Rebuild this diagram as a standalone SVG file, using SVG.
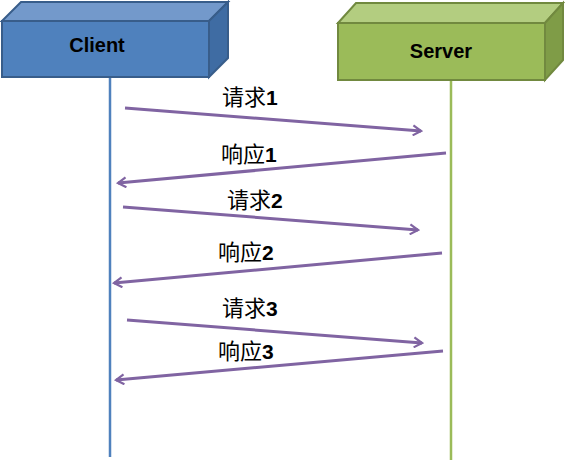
<svg xmlns="http://www.w3.org/2000/svg" width="565" height="462" viewBox="0 0 565 462">
<defs>
<style>
.lbl{font-family:"Noto Sans CJK SC","Liberation Sans",sans-serif;font-size:22px;fill:#000}
.num{font-family:"Liberation Sans",sans-serif;font-weight:bold;font-size:21px}
.title{font-family:"Liberation Sans",sans-serif;font-weight:bold;font-size:20px;fill:#000;text-anchor:middle}
.msg{stroke:#8064A2;stroke-width:3;fill:none;marker-end:url(#ah)}
</style>
<marker id="ah" viewBox="0 0 12 12" refX="10" refY="6" markerWidth="12" markerHeight="12" markerUnits="userSpaceOnUse" orient="auto">
<path d="M2,1 L10,6 L2,11" fill="none" stroke="#8064A2" stroke-width="2.2"/>
</marker>
</defs>
<rect width="565" height="462" fill="#fff"/>
<g id="lifelines">
<line x1="110" y1="77" x2="110" y2="457" stroke="#4F81BD" stroke-width="2.5"/>
<line x1="451" y1="80" x2="451" y2="460" stroke="#9BBB59" stroke-width="2.5"/>
</g>
<g id="client">
<polygon points="2,21 21,2 228,2 209,21" fill="#7399CB" stroke="#385D8A" stroke-width="2"/>
<polygon points="209,21 228,2 228,58 209,77" fill="#3F6CA3" stroke="#385D8A" stroke-width="2"/>
<rect x="2" y="21" width="207" height="56" fill="#4F81BD" stroke="#385D8A" stroke-width="2"/>
<text class="title" x="97" y="52">Client</text>
</g>
<g id="server">
<polygon points="338,23 356,3 563,3 545,23" fill="#B3CD80" stroke="#71893F" stroke-width="2"/>
<polygon points="545,23 563,3 563,60 545,80" fill="#7F9C47" stroke="#71893F" stroke-width="2"/>
<rect x="338" y="23" width="207" height="57" fill="#9BBB59" stroke="#71893F" stroke-width="2"/>
<text class="title" x="441" y="58">Server</text>
</g>
<g id="connectors">
<line class="msg" x1="125" y1="108" x2="421" y2="131"/>
<line class="msg" x1="446" y1="153" x2="118" y2="183"/>
<line class="msg" x1="123" y1="207" x2="418" y2="230"/>
<line class="msg" x1="442" y1="253" x2="114" y2="283"/>
<line class="msg" x1="127" y1="320" x2="422" y2="343"/>
<line class="msg" x1="443" y1="351" x2="116" y2="380"/>
</g>
<g id="labels">
<text class="lbl" x="222" y="105">请求<tspan class="num">1</tspan></text>
<text class="lbl" x="221" y="162">响应<tspan class="num">1</tspan></text>
<text class="lbl" x="227" y="208">请求<tspan class="num">2</tspan></text>
<text class="lbl" x="218" y="260">响应<tspan class="num">2</tspan></text>
<text class="lbl" x="222" y="316">请求<tspan class="num">3</tspan></text>
<text class="lbl" x="218" y="359">响应<tspan class="num">3</tspan></text>
</g>
</svg>
